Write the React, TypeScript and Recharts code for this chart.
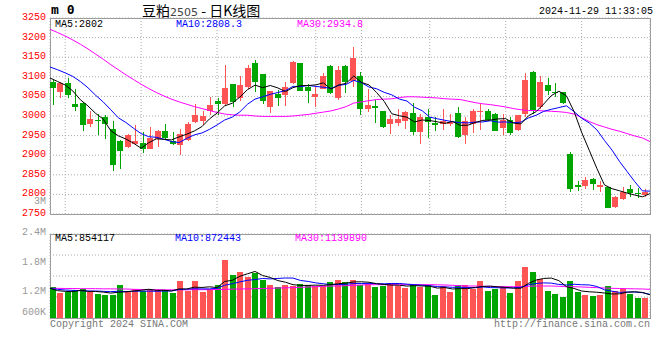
import React from 'react';
import { ComposedChart, Bar, Line, XAxis, YAxis, CartesianGrid } from 'recharts';

// ---------- data ----------
const dates = [
  '08-01','08-02','08-05','08-06','08-07','08-08','08-09','08-12','08-13','08-14',
  '08-15','08-16','08-19','08-20','08-21','08-22','08-23','08-26','08-27','08-28',
  '08-29','08-30','09-02','09-03','09-04','09-05','09-06','09-09','09-10','09-11',
  '09-12','09-13','09-18','09-19','09-20','09-23','09-24','09-25','09-26','09-27',
  '09-30','10-08','10-09','10-10','10-11','10-14','10-15','10-16','10-17','10-18',
  '10-21','10-22','10-23','10-24','10-25','10-28','10-29','10-30','10-31','11-01',
  '11-04','11-05','11-06','11-07','11-08','11-11','11-12','11-13','11-14','11-15',
  '11-18','11-19','11-20','11-21','11-22','11-25','11-26','11-27','11-28','11-29',
];

const opens = [
  3086,3061,3083,3030,3033,2980,2991,2997,2968,2937,
  2921,2928,2931,2916,2942,2961,2936,2925,2939,2984,
  2986,3014,3037,3031,3081,3046,3073,3135,3106,3023,
  3055,3053,3084,3134,3075,3048,3069,3127,3047,3127,
  3090,3101,3018,3025,3012,2980,2982,2988,3007,2959,
  2997,2983,2979,2980,3007,2952,2980,3012,3014,3004,
  2969,2989,2964,3005,3111,3022,3078,3060,3060,2903,
  2823,2822,2840,2819,2819,2767,2788,2814,2804,2798,
];
const highs = [
  3091,3088,3098,3068,3035,3012,3005,3003,2988,2938,
  2953,2976,2959,2972,2964,2979,2958,2966,2985,3031,
  3014,3048,3046,3131,3082,3103,3129,3144,3108,3064,
  3067,3088,3141,3136,3081,3076,3110,3131,3128,3129,
  3177,3111,3070,3040,3014,3003,3019,3014,3032,3004,
  3019,2997,3017,3004,3022,2998,3017,3030,3019,3007,
  3004,2997,3003,3109,3116,3103,3098,3085,3062,2908,
  2834,2844,2842,2833,2820,2797,2820,2825,2816,2813,
];
const lows = [
  3027,3046,3046,3014,2962,2972,2951,2942,2860,2865,
  2919,2927,2906,2915,2921,2938,2925,2900,2937,2981,
  2976,3003,3002,3027,3023,3037,3069,3061,3030,3008,
  3025,3025,3081,3063,3033,3022,3069,3055,3042,3058,
  3074,3002,3010,2982,2969,2954,2975,2966,2951,2929,
  2945,2961,2964,2975,2944,2929,2957,2964,2987,2961,
  2951,2951,2963,2997,3005,3018,3053,3049,3031,2807,
  2809,2814,2812,2807,2765,2765,2786,2794,2792,2793,
];
const closes = [
  3071,3083,3053,3023,2977,2992,2989,2980,2875,2911,
  2951,2936,2916,2945,2961,2944,2929,2955,2979,3002,
  3000,3027,3030,3071,3035,3078,3122,3088,3038,3063,
  3047,3075,3139,3064,3064,3055,3101,3058,3117,3086,
  3149,3018,3027,3020,2972,2992,2992,3009,2959,2997,
  2985,2976,2988,2985,2947,2986,3012,3014,2989,2962,
  2989,2957,3002,3093,3014,3086,3065,3058,3034,2814,
  2820,2837,2827,2823,2766,2793,2807,2803,2800,2807,
];

const ma5 = [
  3097,3088,3079,3064,3041.4,3025.6,3006.8,2992.2,2962.6,2949.4,
  2941.2,2930.6,2917.8,2931.8,2941.8,2940.4,2939,2946.8,2953.6,2961.8,
  2973,2992.6,3007.6,3026,3032.6,3048.2,3067.2,3078.8,3072.2,3077.8,
  3071.6,3062.2,3072.4,3077.6,3077.8,3079.4,3084.6,3068.4,3079,3083.4,
  3102.2,3085.6,3079.4,3060,3037.2,3005.8,3000.6,2997,2984.8,2989.8,
  2988.4,2985.2,2981,2986.2,2976.2,2976.4,2983.6,2988.8,2989.6,2992.6,
  2993.2,2982.2,2979.8,3000.6,3011,3030.4,3052,3063.2,3051.4,3011.4,
  2958.2,2912.6,2866.4,2824.2,2814.6,2809.2,2803.2,2798.4,2793.8,2802,
];
const ma10 = [
  3125,3118,3110,3101,3088,3072,3053,3036,3016,2995.4,
  2983.4,2968.7,2955,2947.2,2945.6,2940.8,2934.8,2932.3,2942.7,2951.8,
  2956.7,2965.8,2977.2,2989.8,2997.2,3010.6,3029.9,3043.2,3049.1,3055.2,
  3059.9,3064.7,3075.6,3074.9,3077.8,3075.5,3073.4,3070.4,3078.3,3080.6,
  3090.8,3085.1,3073.9,3069.5,3060.3,3054,3043.1,3038.2,3022.4,3013.5,
  2997.1,2992.9,2989,2985.5,2983,2982.4,2984.4,2984.9,2987.9,2984.4,
  2984.8,2982.9,2984.3,2995.1,3001.8,3011.8,3017.1,3021.5,3026,3011.2,
  2994.3,2982.3,2964.8,2937.8,2913,2883.7,2857.9,2832.4,2809,2808.3,
];
const ma30 = [
  3221,3213,3204,3194,3183,3171,3158,3145,3131,3118,
  3105,3093,3081,3070,3060,3051,3043,3036,3030,3024,
  3019,3014,3009,3005,3003,3002,3002,3000,2999,2999,
  2999,2999,3000,3002,3004,3007,3010,3013,3018,3024,
  3033,3036,3039,3042,3043,3044,3047,3049,3049,3048,
  3047,3046,3044,3043,3042,3038,3034,3031,3029,3026,
  3023,3019,3016,3014,3014,3013,3012,3011,3009,3005,
  2996,2986,2978,2972,2966,2961,2955,2949,2944,2934.8,
];

const volumes = [
  876000,714000,743000,800000,819000,733000,695000,657000,657000,943000,
  781000,819000,762000,800000,790000,790000,724000,1057000,781000,1057000,
  743000,819000,943000,1657000,1219000,1324000,1171000,1276000,1076000,943000,
  876000,943000,924000,971000,943000,914000,914000,1038000,1086000,1029000,
  1086000,933000,971000,886000,914000,1000000,914000,848000,943000,876000,
  952000,657000,914000,743000,933000,943000,838000,1057000,771000,838000,
  876000,714000,1057000,1457000,1314000,1105000,771000,686000,600000,1057000,
  743000,657000,629000,657000,914000,771000,829000,686000,571000,571000,
];
const volMa5 = [
  848000,781000,762000,752000,790000,762000,758000,741000,712000,737000,
  747000,771000,792000,821000,790000,792000,773000,832000,829000,882000,
  872000,891000,869000,1044000,1076000,1192000,1263000,1330000,1213000,1158000,
  1069000,1023000,952000,931000,931000,939000,933000,956000,979000,996000,
  1030000,1034000,1021000,981000,958000,941000,937000,912000,924000,916000,
  907000,855000,869000,829000,840000,838000,874000,903000,909000,890000,
  876000,851000,851000,989000,1084000,1130000,1141000,1067000,895000,844000,
  771000,749000,737000,714000,686000,691000,737000,749000,731000,663000,
];
const volMa10 = [
  848000,819000,800000,790000,781000,771000,771000,762000,752000,764000,
  754000,765000,767000,767000,764000,770000,772000,812000,825000,836000,
  832000,832000,850000,936000,979000,1032000,1077000,1099000,1129000,1117000,
  1130000,1143000,1141000,1072000,1045000,1004000,978000,954000,955000,964000,
  985000,984000,989000,980000,977000,986000,986000,967000,952000,937000,
  924000,896000,890000,876000,878000,872000,865000,886000,869000,865000,
  857000,863000,877000,949000,987000,1003000,996000,959000,942000,964000,
  950000,945000,902000,805000,765000,731000,743000,743000,723000,674000,
];
const volMa30 = [
  848000,848000,843000,843000,838000,838000,838000,833000,833000,829000,
  829000,819000,815000,810000,810000,805000,805000,805000,805000,810000,
  810000,810000,815000,819000,824000,829000,833000,838000,843000,848000,
  857000,862000,867000,876000,886000,895000,905000,914000,914000,924000,
  933000,943000,952000,952000,952000,952000,952000,952000,952000,952000,
  952000,948000,943000,933000,924000,914000,914000,905000,905000,895000,
  895000,895000,895000,905000,914000,914000,914000,905000,895000,895000,
  886000,876000,867000,857000,848000,843000,838000,833000,829000,819000,
];

const dateTicks = ['08-05','08-19','09-02','09-23','10-08','10-21','11-04','11-18'];
const priceTicks = [2750,2800,2850,2900,2950,3000,3050,3100,3150,3200,3250];
const volTicks = [600000,1200000,1800000,2400000];
const volTickLabels = ['600K','1.2M','1.8M','2.4M'];

const titleName = '豆粕';
const titleCode = '2505';
const titleRest = ' - 日K线图';
const stamp = '2024-11-29 11:33:05';
const priceLegend = ['MA5:2802', 'MA10:2808.3', 'MA30:2934.8'];
const volLegend = ['MA5:854117', 'MA10:872443', 'MA30:1139890'];

// ---------- styling ----------
const MONO = '"Liberation Mono", "DejaVu Sans Mono", monospace';
const RED = '#ff5454';
const GREEN = '#00a600';
const GRID = '#a8a8a8';
const BORDER = '#9a9a9a';

const rows = dates.map((d, i) => ({
  i,
  date: d,
  open: opens[i],
  high: highs[i],
  low: lows[i],
  close: closes[i],
  range: [lows[i], highs[i]],
  ma5: ma5[i],
  ma10: ma10[i],
  ma30: ma30[i],
  vol: volumes[i],
  vma5: volMa5[i],
  vma10: volMa10[i],
  vma30: volMa30[i],
}));

const tickIdx = dateTicks.map((t) => dates.indexOf(t));

const Candle = (props: any) => {
  const { x, y, width, height, payload } = props;
  if (!payload) return null;
  const { open, close, high, low } = payload;
  const color = close >= open ? RED : GREEN;
  const span = high - low;
  const toY = (v: number) => (span > 0 ? y + ((high - v) / span) * height : y);
  const left = Math.round(x);
  const w = Math.max(1, Math.round(width));
  const cx = left + Math.floor(w / 2) + 0.5;
  const top = Math.round(toY(Math.max(open, close)));
  const bottom = Math.round(toY(Math.min(open, close)));
  return (
    <g>
      <line x1={cx} x2={cx} y1={Math.round(y)} y2={Math.round(y + height)} stroke={color} strokeWidth={1} />
      <rect x={left} y={top} width={w} height={Math.max(1, bottom - top)} fill={color} shapeRendering="crispEdges" />
    </g>
  );
};

const VolBar = (props: any) => {
  const { x, y, width, height, payload } = props;
  if (!payload) return null;
  const color = payload.close >= payload.open ? RED : GREEN;
  return (
    <rect x={Math.round(x)} y={Math.round(y)} width={Math.max(1, Math.round(width))} height={Math.max(0, Math.round(y + height) - Math.round(y))} fill={color} shapeRendering="crispEdges" />
  );
};

const PriceTick = ({ x, y, payload }: any) => (
  <text x={x} y={y - 1.5} dy="0.355em" textAnchor="end" fill="#ff0000" fontSize={10} fontFamily={MONO}>
    {payload.value}
  </text>
);

const DateTick = ({ x, y, payload }: any) => (
  <text x={x} y={y} dy="0.71em" textAnchor="middle" fill="#0a84d8" fontSize={10} fontFamily={MONO}>
    {dates[payload.value]}
  </text>
);

const volTickShift = [14, 14, 6, -3];
const VolTick = ({ x, y, payload }: any) => {
  const k = volTicks.indexOf(payload.value);
  return (
    <text x={x} y={y + (volTickShift[k] || 0)} dy="0.355em" textAnchor="end" fill="#999" fontSize={10} fontFamily={MONO}>
      {volTickLabels[k]}
    </text>
  );
};

const T = ({ left, top, color = '#000', children, size = 10, family = MONO, bold = false, width, align }: any) => (
  <div
    style={{
      position: 'absolute',
      left,
      top,
      width,
      textAlign: align,
      color,
      fontSize: size,
      lineHeight: '12px',
      fontFamily: family,
      fontWeight: bold ? 'bold' : 'normal',
      whiteSpace: 'nowrap',
    }}
  >
    {children}
  </div>
);

export default function App() {
  return (
    <div style={{ position: 'fixed', left: 0, top: 0, width: 660, height: 360, background: '#fff', overflow: 'hidden' }}>
      {/* panel borders */}
      <div style={{ position: 'absolute', left: 50, top: 18, width: 601, height: 197, border: `1px solid ${BORDER}`, boxSizing: 'border-box' }} />
      <div style={{ position: 'absolute', left: 50, top: 234, width: 601, height: 85, border: `1px solid ${BORDER}`, boxSizing: 'border-box' }} />

      {/* price panel */}
      <div style={{ position: 'absolute', left: 0, top: 0 }}>
        <ComposedChart width={660} height={232} data={rows} margin={{ top: 18, right: 10, bottom: 2, left: 0 }}>
          <CartesianGrid xAxisId="pt" yAxisId="p" stroke={GRID} strokeDasharray="1 2" />
          <XAxis
            xAxisId="pt"
            type="number"
            dataKey="i"
            domain={[0, 79]}
            allowDataOverflow
            ticks={tickIdx}
            interval={0}
            height={16}
            axisLine={false}
            tickLine={false}
            tickSize={0}
            tickMargin={4}
            tick={<DateTick />}
          />
          <XAxis xAxisId="bar" type="number" dataKey="i" domain={[-0.35, 79.65]} allowDataOverflow hide />
          <YAxis
            yAxisId="p"
            domain={[2750, 3250]}
            allowDataOverflow
            ticks={priceTicks}
            interval={0}
            width={50}
            axisLine={false}
            tickLine={false}
            tickSize={0}
            tickMargin={4}
            tick={<PriceTick />}
          />
          <Bar xAxisId="bar" yAxisId="p" dataKey="range" barSize={6} shape={<Candle />} isAnimationActive={false} />
          <Line xAxisId="pt" yAxisId="p" dataKey="ma30" stroke="#ff00ff" strokeWidth={1} dot={false} activeDot={false} isAnimationActive={false} />
          <Line xAxisId="pt" yAxisId="p" dataKey="ma10" stroke="#0000ff" strokeWidth={1} dot={false} activeDot={false} isAnimationActive={false} />
          <Line xAxisId="pt" yAxisId="p" dataKey="ma5" stroke="#000000" strokeWidth={1} dot={false} activeDot={false} isAnimationActive={false} />
        </ComposedChart>
      </div>

      {/* volume panel */}
      <div style={{ position: 'absolute', left: 0, top: 222 }}>
        <ComposedChart width={660} height={113} data={rows} margin={{ top: 12, right: 10, bottom: 17, left: 0 }}>
          <CartesianGrid xAxisId="pt" yAxisId="v" stroke={GRID} strokeDasharray="1 2" />
          <XAxis
            xAxisId="pt"
            type="number"
            dataKey="i"
            domain={[0, 79]}
            allowDataOverflow
            ticks={tickIdx}
            interval={0}
            height={0}
            tick={false}
            axisLine={false}
            tickLine={false}
          />
          <XAxis xAxisId="bar" type="number" dataKey="i" domain={[-0.35, 79.65]} allowDataOverflow hide />
          <YAxis
            yAxisId="v"
            domain={[0, 2400000]}
            allowDataOverflow
            ticks={volTicks}
            interval={0}
            width={50}
            axisLine={false}
            tickLine={false}
            tickSize={0}
            tickMargin={4}
            tick={<VolTick />}
          />
          <Bar xAxisId="bar" yAxisId="v" dataKey="vol" barSize={6} shape={<VolBar />} isAnimationActive={false} />
          <Line xAxisId="pt" yAxisId="v" dataKey="vma30" stroke="#ff00ff" strokeWidth={1} dot={false} activeDot={false} isAnimationActive={false} />
          <Line xAxisId="pt" yAxisId="v" dataKey="vma10" stroke="#0000ff" strokeWidth={1} dot={false} activeDot={false} isAnimationActive={false} />
          <Line xAxisId="pt" yAxisId="v" dataKey="vma5" stroke="#000000" strokeWidth={1} dot={false} activeDot={false} isAnimationActive={false} />
        </ComposedChart>
      </div>

      {/* header texts */}
      <T left={51} top={4} size={13} bold family='"DejaVu Sans Mono", monospace'>m 0</T>
      <div style={{ position: 'absolute', left: 142, top: 2, fontFamily: '"Noto Sans CJK SC", sans-serif', fontSize: 14, lineHeight: '16px', whiteSpace: 'nowrap', color: '#000' }}>
        {titleName}
        <span style={{ fontSize: 11, color: '#444', fontFamily: '"DejaVu Sans", sans-serif' }}>{titleCode}</span>
        {titleRest}
      </div>
      <T left={539} top={6}>{stamp}</T>

      <T left={55} top={19} color="#000">{priceLegend[0]}</T>
      <T left={176} top={19} color="#0000ff">{priceLegend[1]}</T>
      <T left={297} top={19} color="#ff00ff">{priceLegend[2]}</T>

      <T left={0} top={196} width={46} align="right" color="#999">3M</T>

      <T left={55} top={233} color="#000">{volLegend[0]}</T>
      <T left={175} top={233} color="#0000ff">{volLegend[1]}</T>
      <T left={295} top={233} color="#ff00ff">{volLegend[2]}</T>

      <T left={50} top={319} color="#777">Copyright 2024 SINA.COM</T>
      <T left={494} top={319} color="#777">http://finance.sina.com.cn</T>
    </div>
  );
}
